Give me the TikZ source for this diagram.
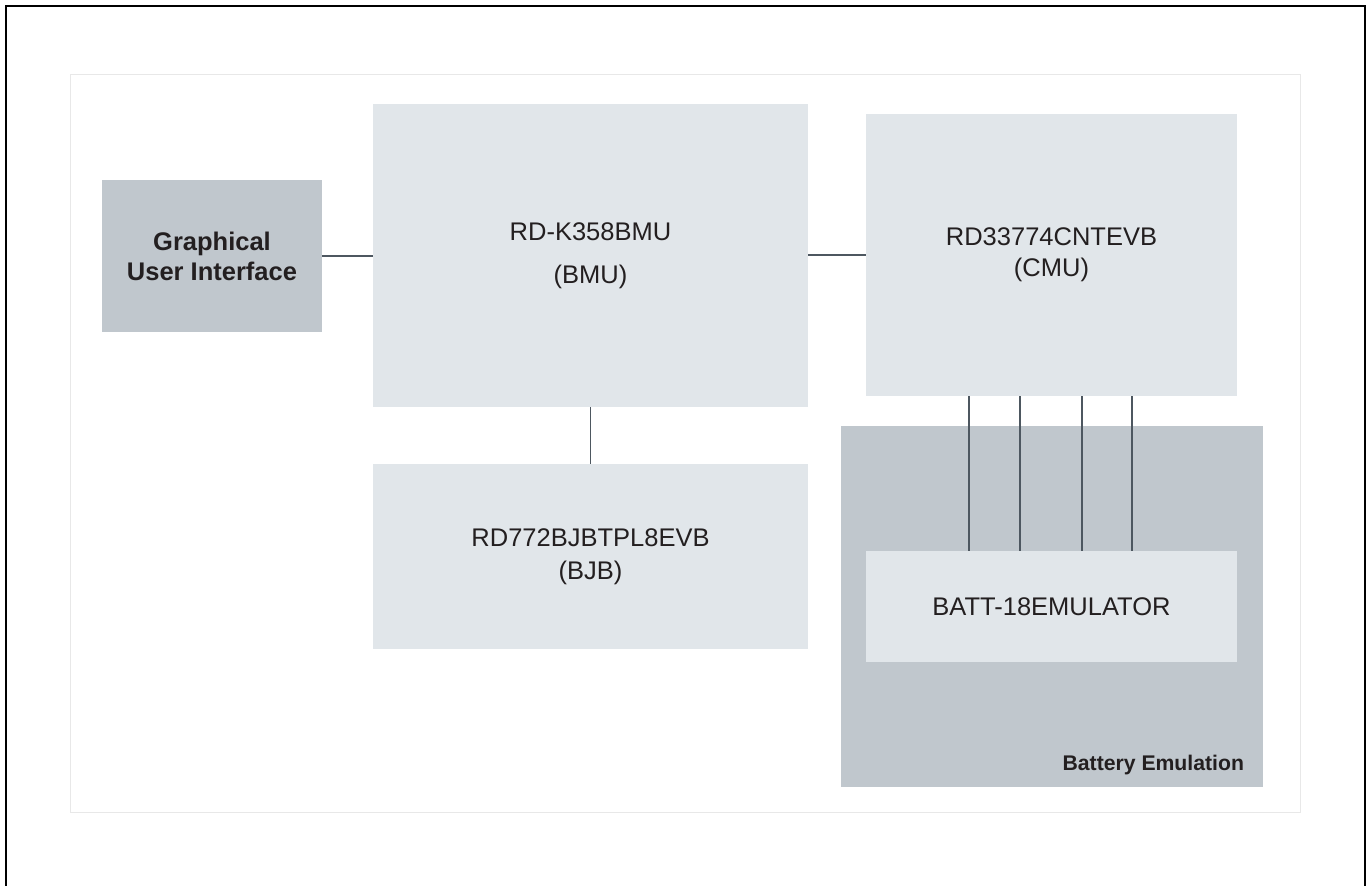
\documentclass[tikz,border=0pt]{standalone}
\usepackage{fontspec}
\setmainfont{Liberation Sans}
\definecolor{boxlight}{HTML}{E1E6EA}
\definecolor{boxdark}{HTML}{C0C7CD}
\definecolor{wire}{HTML}{4D5760}
\definecolor{ink}{HTML}{231F20}
\definecolor{framegray}{HTML}{E8E8E8}
\begin{document}
\begin{tikzpicture}[x=1pt,y=1pt,
    light/.style = {fill=boxlight, inner sep=0pt, align=center, text=ink, font=\fontsize{25.5}{31}\selectfont},
    dark/.style = {fill=boxdark, inner sep=0pt, align=center, text=ink, font=\fontsize{25.5}{30}\selectfont\bfseries},
    wirestyle/.style = {draw=wire, line width=1.3pt}]
    \useasboundingbox (0,0) rectangle (1371,886);
    \draw[line width=2.5pt] (6,0) -- (6,880) -- (1365,880) -- (1365,0);
    \draw[framegray, line width=1pt] (70,73) rectangle (1300,811);
    \node[dark, minimum width=220, minimum height=152] (gui) at (212,630) {Graphical\\User Interface};
    \node[light, minimum width=435, minimum height=303] (bmu) at (590.5,630.5) {RD-K358BMU\\[12pt](BMU)};
    \node[light, minimum width=435, minimum height=185] (bjb) at (590.5,329.5) {RD772BJBTPL8EVB\\[2pt](BJB)};
    \node[light, minimum width=371, minimum height=282] (cmu) at (1051.5,631) {RD33774CNTEVB\\(CMU)};
    \node[dark, minimum width=422, minimum height=361] (emu) at (1052,279.5) {};
    \node[light, minimum width=371, minimum height=111] (batt) at (1051.5,279.5) {BATT-18EMULATOR};
    \node[anchor=base east, inner sep=0pt, text=ink, font=\fontsize{21.2}{25}\selectfont\bfseries] (emulabel) at ([shift={(-19,17)}]emu.south east) {Battery Emulation};
    \draw[wirestyle] (gui.east) -- (gui.east -| bmu.west);
    \draw[wirestyle] (cmu.west) -- (cmu.west -| bmu.east);
    \draw[wirestyle] (bmu.south) -- (bjb.north);
    \foreach \dx in {-82.5,-31.5,30.5,80.5}
        \draw[wirestyle] ([xshift=\dx]cmu.south) -- ([xshift=\dx]batt.north);
\end{tikzpicture}
\end{document}
